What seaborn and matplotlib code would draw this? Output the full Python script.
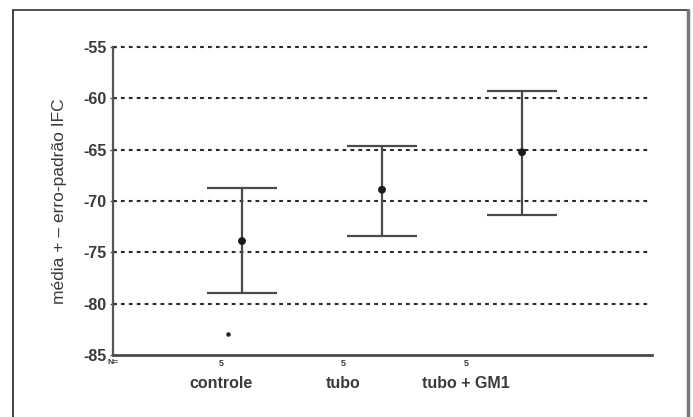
import numpy as np
import pandas as pd
import seaborn as sns
import matplotlib
matplotlib.use('Agg')
import matplotlib.pyplot as plt
from matplotlib.lines import Line2D

categories = ['controle', 'tubo', 'tubo + GM1']
n_counts = ['5', '5', '5']
means = [-73.9, -68.9, -65.25]
upper = [-68.7, -64.6, -59.25]
lower = [-79.0, -73.4, -71.4]
stray_value = [-83.0]
yticks = [-55, -60, -65, -70, -75, -80, -85]

sns.set_style('white')
plt.rcParams['font.family'] = ['Liberation Sans', 'DejaVu Sans']

fig = plt.figure(figsize=(6.93, 4.17), dpi=100)
ax = fig.add_axes([113 / 693, 1 - 355 / 417, (652 - 113) / 693, (355 - 47) / 417])

ink = '#3a3a3a'
tick_pos = np.arange(1, len(categories) + 1)
bar_pos = tick_pos + 0.171 + 0.143 * np.arange(len(categories))

# dotted grid lines
for v in yticks[:-1]:
    ax.axhline(v, color='#2a2a2a', lw=1.5, ls=(0, (1.8, 2.0)), xmax=0.995,
               zorder=1, clip_on=False)

df = pd.DataFrame({'x': bar_pos, 'mean': means})
err = [np.array(means) - np.array(lower), np.array(upper) - np.array(means)]
ax.errorbar(bar_pos, means, yerr=err, fmt='none', ecolor='#4a4a4a',
            elinewidth=1.6, capsize=25, capthick=1.6, zorder=3)
sns.scatterplot(data=df, x='x', y='mean', ax=ax, color='#1a1a1a', s=32,
                edgecolor='none', zorder=4, legend=False)
ax.scatter([tick_pos[0] + 0.057], stray_value, s=5, color='#222222', zorder=4)

ax.set_xlim(0.118, 4.518)
ax.set_ylim(-85, -55)
ax.set_yticks(yticks)
ax.set_yticklabels([str(v) for v in yticks], fontsize=11.5, fontweight='bold', color=ink)
ax.tick_params(axis='y', direction='inout', length=5, width=1, color='#555555', pad=2, left=True)
ax.set_xticks(tick_pos)
ax.set_xticklabels(categories, fontsize=11.5, fontweight='bold', color=ink)
ax.tick_params(axis='x', length=0, pad=15)
ax.set_xlabel('')
ax.set_ylabel('média + – erro-padrão IFC', fontsize=12.5, color=ink, labelpad=12)

for side in ['top', 'right']:
    ax.spines[side].set_visible(False)
ax.spines['left'].set_color('#555555')
ax.spines['left'].set_linewidth(1.6)
ax.spines['bottom'].set_color('#4a4a4a')
ax.spines['bottom'].set_linewidth(2.0)

trans = ax.get_xaxis_transform()
for x, n in zip(tick_pos, n_counts):
    ax.text(x, -0.012, n, transform=trans, ha='center', va='top', fontsize=6.5,
            fontweight='bold', color=ink)
ax.text(-0.01, -0.012, 'N=', transform=ax.transAxes, ha='left', va='top',
        fontsize=6, fontweight='bold', color=ink)

# outer frame (open at the bottom)
fx0, fx1, fy1 = 13 / 693, 688 / 693, 1 - 10 / 417
fig.add_artist(Line2D([fx0, fx0], [0, fy1], color='#222222', lw=1.2, transform=fig.transFigure))
fig.add_artist(Line2D([fx0, fx1], [fy1, fy1], color='#333333', lw=1.2, transform=fig.transFigure))
fig.add_artist(Line2D([fx1, fx1], [0, fy1], color='#777777', lw=2.5, transform=fig.transFigure))

fig.savefig('out.png', dpi=100)
